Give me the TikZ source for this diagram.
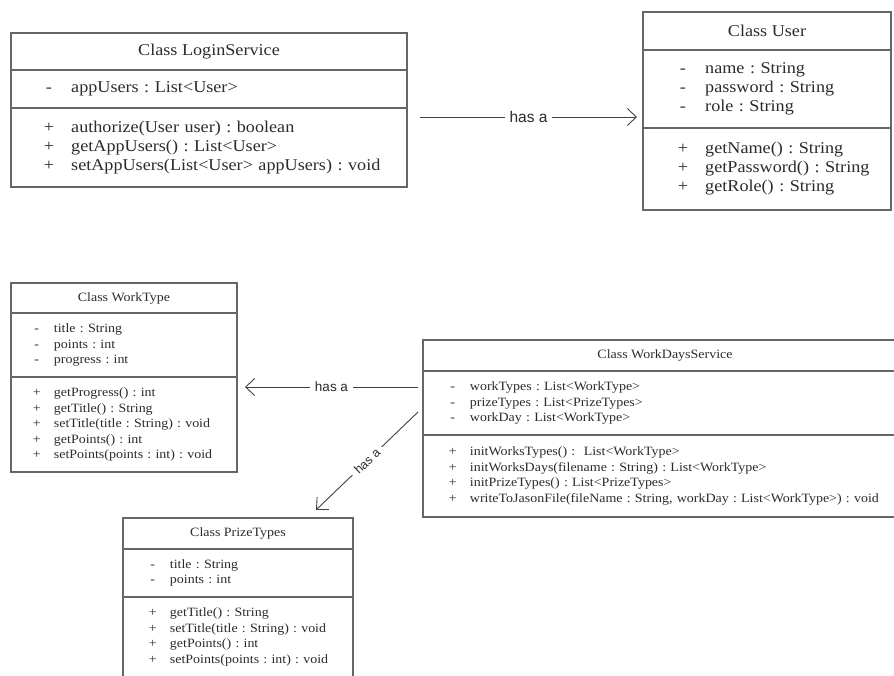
\documentclass[tikz,border=0pt]{standalone}
\usepackage{fontspec}
\usepackage{xcolor}
\usepackage{tikz}
\usetikzlibrary{arrows.meta, positioning}
\newfontfamily\umlfont[FakeStretch=1.1]{Liberation Serif}
\newfontfamily\linkfont{Liberation Sans}
\definecolor{boxline}{HTML}{666666}
\definecolor{umltext}{HTML}{2B2B2B}
\definecolor{linkline}{HTML}{404040}
\newcommand{\bigfnt}{\umlfont\fontsize{16.5}{19}\selectfont\frenchspacing}
\newcommand{\smallfnt}{\umlfont\fontsize{12.7}{15.5}\selectfont\frenchspacing}
\newcommand{\mbr}[2]{\leavevmode\rlap{\makebox[1.65em][l]{\makebox[0.6em]{#1}}#2}}

\begin{document}
\begin{tikzpicture}[x=1pt, y=-1pt,
  umlpart/.style={draw=boxline, line width=1.2pt, outer sep=0pt, inner sep=0pt, text=umltext},
  head/.style={umlpart, align=center},
  body/.style={umlpart, align=left, text width=#1},
  hasa/.style={draw=linkline, line width=0.9pt, -{Straight Barb[length=9pt,width=17pt]}},
  lbl/.style={fill=white, text=umltext, inner xsep=5pt, inner ysep=1pt},
]
  \useasboundingbox (0,0) rectangle (894,675);
  \clip (0,0) rectangle (894,675);

  % LoginService
  \node[head, font=\bigfnt, minimum width=396pt, minimum height=37pt, anchor=north west] (lst) at (11,33) {Class LoginService};
  \node[body=330pt, font=\bigfnt, inner xsep=33pt, minimum height=38pt, below=0pt of lst] (lsa)
    {\mbr{-}{appUsers : List<User>}};
  \node[body=330pt, font=\bigfnt, inner xsep=33pt, minimum height=79pt, below=0pt of lsa] (lsm)
    {\mbr{+}{authorize(User user) : boolean}\\
     \mbr{+}{getAppUsers() : List<User>}\\
     \mbr{+}{setAppUsers(List<User> appUsers) : void}};

  % User
  \node[head, font=\bigfnt, minimum width=248pt, minimum height=38pt, anchor=north west] (ut) at (643,12) {Class User};
  \node[body=178pt, font=\bigfnt, inner xsep=35pt, minimum height=78pt, below=0pt of ut] (ua)
    {\mbr{-}{name : String}\\
     \mbr{-}{password : String}\\
     \mbr{-}{role : String}};
  \node[body=178pt, font=\bigfnt, inner xsep=35pt, minimum height=82pt, below=0pt of ua] (um)
    {\mbr{+}{getName() : String}\\
     \mbr{+}{getPassword() : String}\\
     \mbr{+}{getRole() : String}};

  % WorkType
  \node[head, font=\smallfnt, minimum width=226pt, minimum height=30pt, anchor=north west] (wtt) at (11,283) {Class WorkType};
  \node[body=182pt, font=\smallfnt, inner xsep=22pt, minimum height=64pt, below=0pt of wtt] (wta)
    {\mbr{-}{title : String}\\
     \mbr{-}{points : int}\\
     \mbr{-}{progress : int}};
  \node[body=182pt, font=\smallfnt, inner xsep=22pt, minimum height=95pt, below=0pt of wta] (wtm)
    {\mbr{+}{getProgress() : int}\\
     \mbr{+}{getTitle() : String}\\
     \mbr{+}{setTitle(title : String) : void}\\
     \mbr{+}{getPoints() : int}\\
     \mbr{+}{setPoints(points : int) : void}};

  % WorkDaysService
  \node[head, font=\smallfnt, minimum width=484pt, minimum height=31pt, anchor=north west] (wdt) at (423,340) {Class WorkDaysService};
  \node[body=432pt, font=\smallfnt, inner xsep=26pt, minimum height=64pt, below=0pt of wdt] (wda)
    {\mbr{-}{workTypes : List<WorkType>}\\
     \mbr{-}{prizeTypes : List<PrizeTypes>}\\
     \mbr{-}{workDay : List<WorkType>}};
  \node[body=432pt, font=\smallfnt, inner xsep=26pt, minimum height=82pt, below=0pt of wda] (wdm)
    {\mbr{+}{initWorksTypes() :\ \ List<WorkType>}\\
     \mbr{+}{initWorksDays(filename : String) : List<WorkType>}\\
     \mbr{+}{initPrizeTypes() : List<PrizeTypes>}\\
     \mbr{+}{writeToJasonFile(fileName : String, workDay : List<WorkType>) : void}};

  % PrizeTypes
  \node[head, font=\smallfnt, minimum width=230pt, minimum height=31pt, anchor=north west] (ptt) at (123,518) {Class PrizeTypes};
  \node[body=178pt, font=\smallfnt, inner xsep=26pt, minimum height=48pt, below=0pt of ptt] (pta)
    {\mbr{-}{title : String}\\
     \mbr{-}{points : int}};
  \node[body=178pt, font=\smallfnt, inner xsep=26pt, minimum height=80pt, below=0pt of pta] (ptm)
    {\mbr{+}{getTitle() : String}\\
     \mbr{+}{setTitle(title : String) : void}\\
     \mbr{+}{getPoints() : int}\\
     \mbr{+}{setPoints(points : int) : void}};

  % has a links
  \draw[hasa] ([xshift=13pt,yshift=-9pt]lsm.north east) -- node[lbl, font=\linkfont\fontsize{15.5}{18}\selectfont] {has a} ([xshift=-6pt,yshift=11pt]ua.south west);
  \draw[hasa] ([xshift=-5pt,yshift=-16pt]wda.north west) -- node[lbl, font=\linkfont\fontsize{13.5}{16}\selectfont] {has a} ([xshift=8pt,yshift=-10pt]wtm.north east);
  \draw[hasa] ([xshift=-5pt,yshift=-41pt]wda.north west) -- node[lbl, sloped, font=\linkfont\fontsize{12.5}{15}\selectfont] {has a} ([xshift=-37pt,yshift=8pt]ptt.north east);
\end{tikzpicture}
\end{document}
